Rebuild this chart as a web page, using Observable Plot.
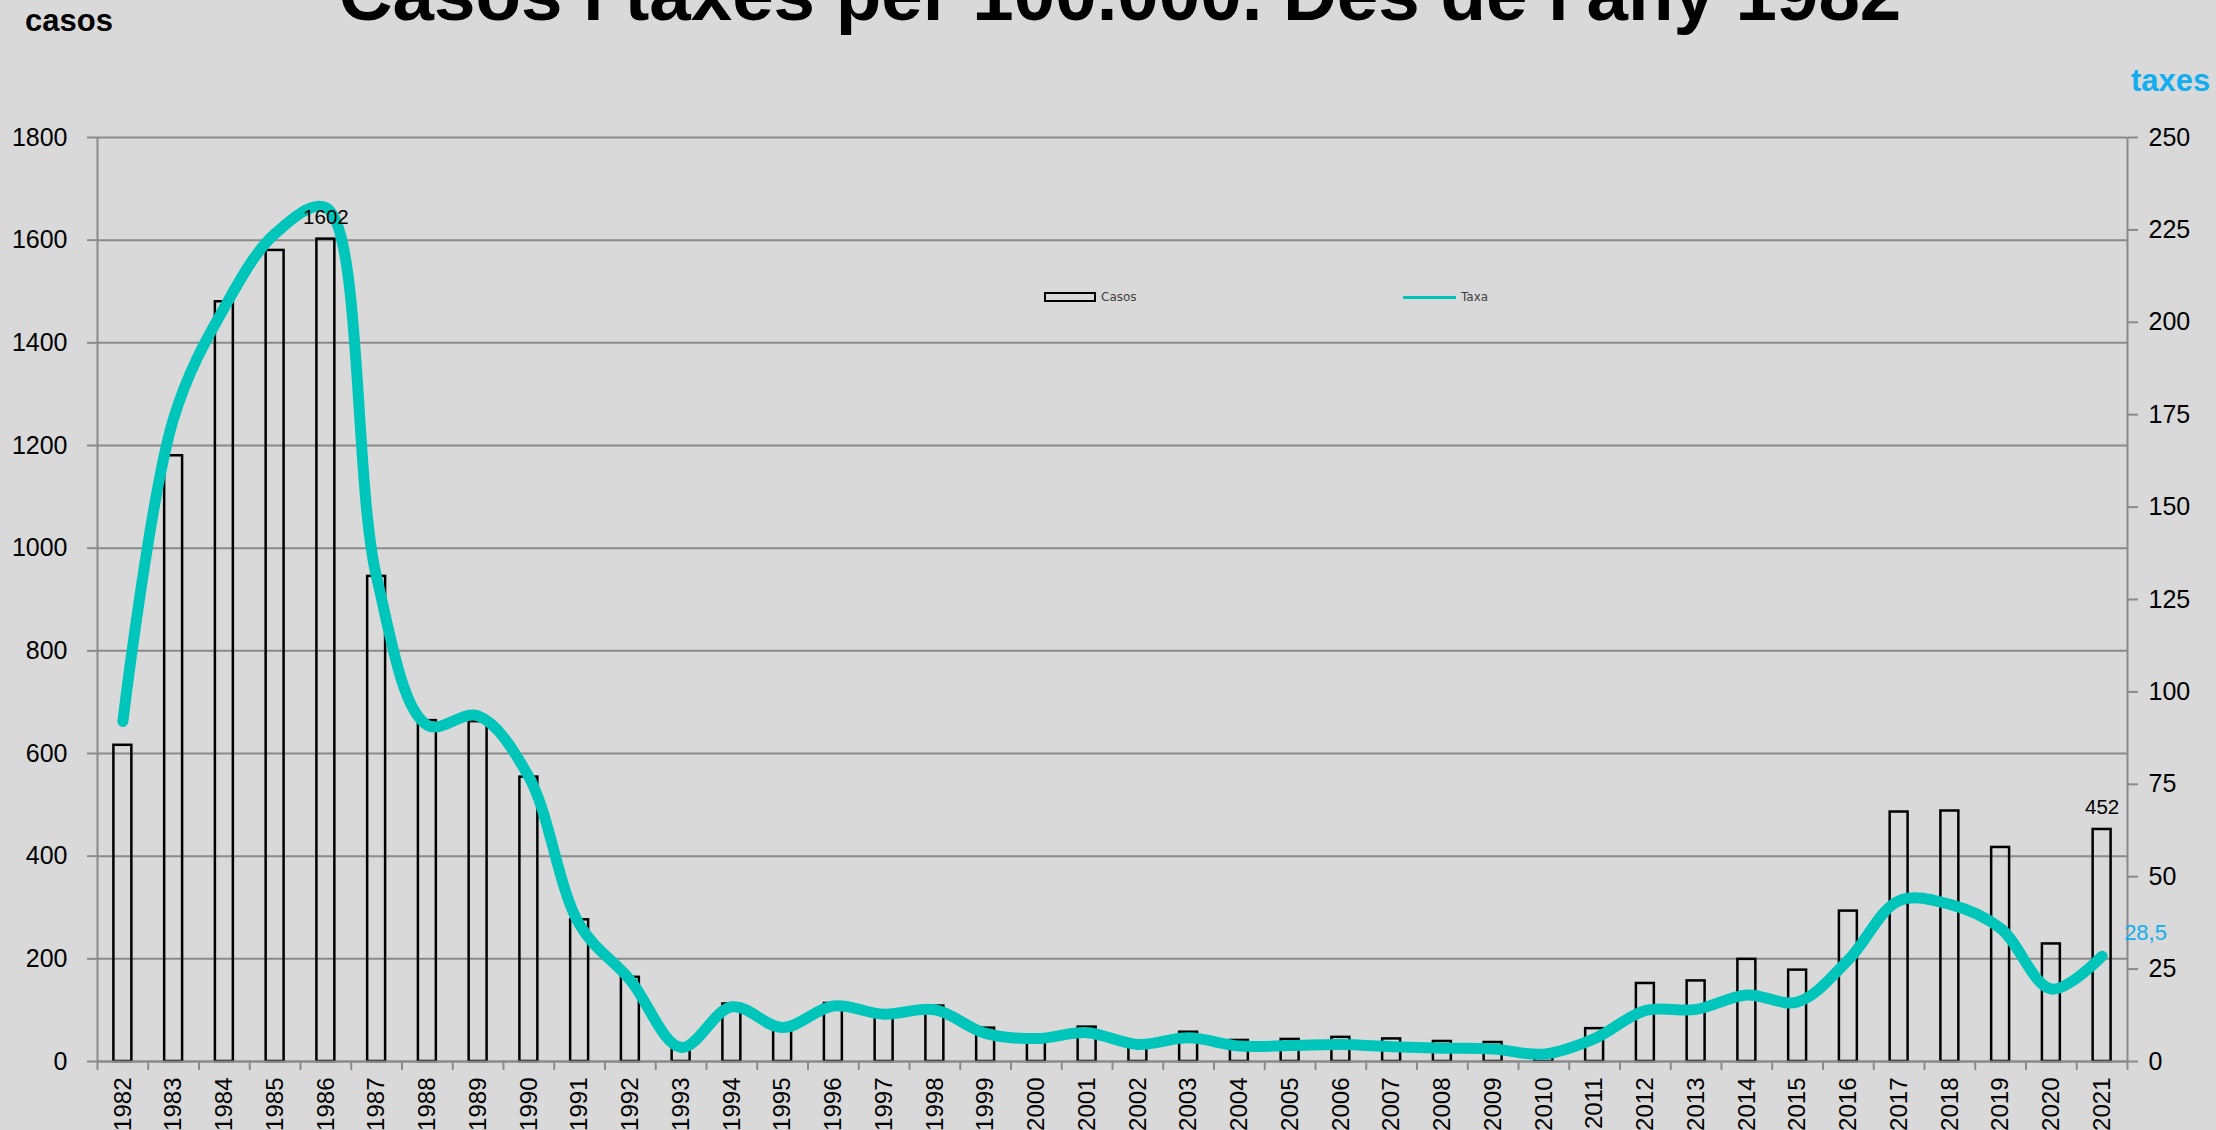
<!DOCTYPE html>
<html>
<head>
<meta charset="utf-8">
<script src="https://cdn.jsdelivr.net/npm/d3@7"></script>
<script src="https://cdn.jsdelivr.net/npm/@observablehq/plot@0.6"></script>
<style>
  html, body { margin: 0; padding: 0; background: #d9d9d9; overflow: hidden; }
  #wrap { position: relative; width: 2216px; height: 1130px; background: #d9d9d9; font-family: "Liberation Sans", Arial, sans-serif; overflow: hidden; }
  #title { position: absolute; left: 0; top: -42px; width: 2240px; text-align: center; font-size: 74.5px; line-height: 74.5px; font-weight: bold; color: #000; white-space: nowrap; }
  #casosLab { position: absolute; left: 25px; top: 5px; font-size: 31px; line-height: 31px; font-weight: bold; color: #000; }
  #taxesLab { position: absolute; left: 2131px; top: 65px; font-size: 31px; line-height: 31px; font-weight: bold; color: #12aef0; }
  #chart { position: absolute; left: 0; top: 0; }
  .leg { position: absolute; font-size: 12px; line-height: 12px; color: #404040; font-family: "DejaVu Sans", sans-serif; }
  #legRect { position: absolute; left: 1044px; top: 292px; width: 48px; height: 6px; border: 2.5px solid #000; background: #d9d9d9; }
  #legLine { position: absolute; left: 1403px; top: 296px; width: 53px; height: 3px; background: #00c5ba; }
</style>
</head>
<body>
<div id="wrap">
  <div id="chart"></div>
  <div id="title">Casos i taxes per 100.000. Des de l'any 1982</div>
  <div id="casosLab">casos</div>
  <div id="taxesLab">taxes</div>
  <div id="legRect"></div>
  <div class="leg" style="left:1101px;top:291px;">Casos</div>
  <div id="legLine"></div>
  <div class="leg" style="left:1461px;top:291px;">Taxa</div>
</div>
<script>
// ---- data ----
const years = [1982, 1983, 1984, 1985, 1986, 1987, 1988, 1989, 1990, 1991,
               1992, 1993, 1994, 1995, 1996, 1997, 1998, 1999, 2000, 2001,
               2002, 2003, 2004, 2005, 2006, 2007, 2008, 2009, 2010, 2011,
               2012, 2013, 2014, 2015, 2016, 2017, 2018, 2019, 2020, 2021];
const casos = [616, 1180, 1480, 1580, 1602, 945, 664, 662, 554, 276,
               164, 27, 112, 62, 113, 95, 108, 65, 45, 67,
               33, 57, 41, 43, 47, 44, 39, 37, 18, 64,
               152, 157, 199, 178, 293, 486, 488, 417, 229, 452];
const taxa = [92, 174, 204, 224, 231, 131, 91, 93.5, 77, 37,
              22, 3.8, 14.8, 9.2, 15, 12.8, 14, 7.6, 6.2, 7.8,
              4.6, 6.4, 4.2, 4.3, 4.6, 4.0, 3.6, 3.4, 2.0, 6.2,
              13.8, 14.1, 18, 16.1, 27.5, 43.5, 42.5, 36, 19.6, 28.5];
const casosTicks = [0, 200, 400, 600, 800, 1000, 1200, 1400, 1600, 1800];
const taxesTicks = [0, 25, 50, 75, 100, 125, 150, 175, 200, 225, 250];
const labeledYears = [1986, 2021];
const casosMax = 1800;
const taxesMax = 250;

// ---- build ----
const table = years.map((year, i) => ({year, casos: casos[i], taxa: taxa[i]}));
const K = casosMax / taxesMax; // taxes -> casos scale units
const bounds = [years[0] - 0.5, ...years.map(y => y + 0.5)];
const grey = "#8a8a8a";

const chart = Plot.plot({
  width: 2216,
  height: 1130,
  marginTop: 137,
  marginBottom: 69,
  marginLeft: 97,
  marginRight: 89,
  style: {background: "#d9d9d9", fontFamily: "Liberation Sans, Arial, sans-serif", color: "#000", overflow: "visible"},
  x: {type: "linear", domain: [years[0] - 0.5, years[years.length - 1] + 0.5], label: null},
  y: {domain: [0, casosMax], label: null},
  marks: [
    Plot.gridY({ticks: casosTicks, stroke: grey, strokeOpacity: 1, strokeWidth: 2}),
    Plot.ruleX([bounds[0], bounds[bounds.length - 1]], {stroke: grey, strokeWidth: 2}),
    Plot.axisY({anchor: "left", ticks: casosTicks, tickSize: 10, tickPadding: 20, stroke: grey, strokeWidth: 2, fill: "#000", fontSize: 25, label: null, tickFormat: d => String(d)}),
    Plot.axisY({anchor: "right", ticks: taxesTicks.map(v => v * K), tickSize: 10, tickPadding: 11, stroke: grey, strokeWidth: 2, fill: "#000", fontSize: 25, label: null, tickFormat: v => String(Math.round(v / K))}),
    Plot.axisX({ticks: bounds, tickSize: 9, stroke: grey, strokeWidth: 2, tickFormat: () => "", label: null}),
    Plot.axisX({ticks: years, tickSize: 0, tickPadding: 16, tickRotate: -90, fill: "#000", fontSize: 24, label: null, tickFormat: d => String(d)}),
    Plot.rectY(table, {x1: d => d.year - 0.5, x2: d => d.year + 0.5, y: "casos", insetLeft: 16.4, insetRight: 16.4, fill: "none", stroke: "#000", strokeWidth: 2.5}),
    Plot.ruleY([0], {stroke: grey, strokeWidth: 2}),
    Plot.line(table, {x: "year", y: d => d.taxa * K, curve: "catmull-rom", stroke: "#00c5ba", strokeWidth: 11, strokeLinecap: "round", strokeLinejoin: "round"}),
    Plot.text(table.filter(d => labeledYears.includes(d.year)), {x: "year", y: "casos", text: d => String(d.casos), dy: -22, fontSize: 20.5, fill: "#000"}),
    Plot.text(table.filter(d => d.year === years[years.length - 1]), {x: "year", y: d => d.taxa * K, text: d => String(d.taxa).replace(".", ","), textAnchor: "start", dx: 22, dy: -23, fontSize: 22, fill: "#12aef0"})
  ]
});
document.getElementById("chart").appendChild(chart);
</script>
</body>
</html>
